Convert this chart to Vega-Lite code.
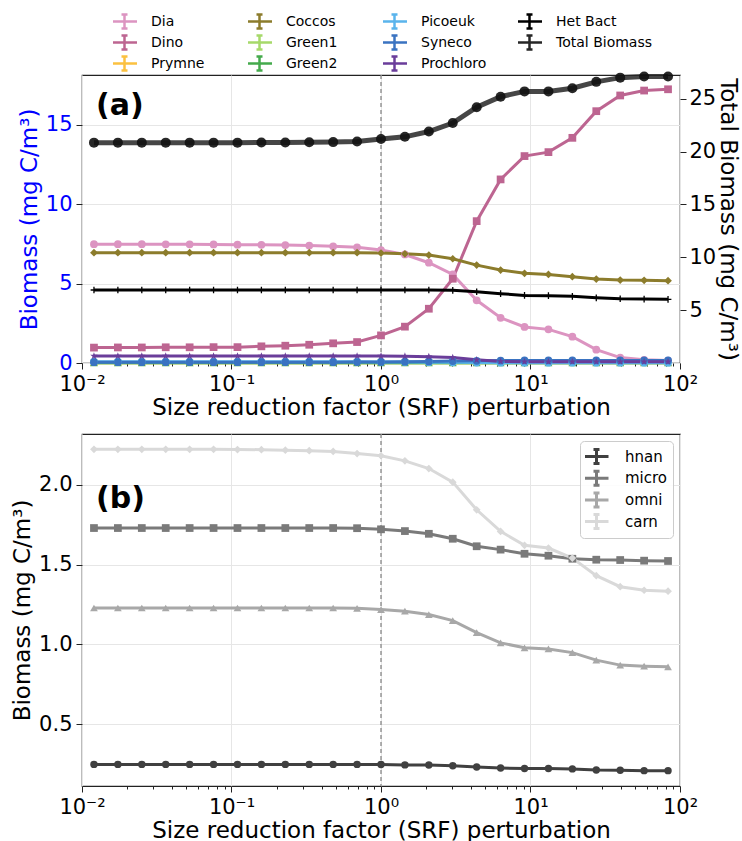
{
"$schema":"https://vega.github.io/schema/vega-lite/v6.json",
"padding":{"left":11,"top":10,"right":1,"bottom":2},
"config":{"font":"DejaVu Sans","view":{"stroke":"#222","strokeWidth":1.2},
 "axis":{"labelFontSize":21,"titleFontSize":23,"titleFontWeight":"normal","labelColor":"#000","titleColor":"#000","tickColor":"#222","domain":false,"gridColor":"#e6e6e6","tickSize":6,"labelPadding":4,"titlePadding":4}},
"datasets":{
"a":[
{"g":"Dia","x":0.012023,"y":7.49},{"g":"Dia","x":0.017378,"y":7.49},{"g":"Dia","x":0.025119,"y":7.49},{"g":"Dia","x":0.036308,"y":7.48},{"g":"Dia","x":0.052481,"y":7.48},{"g":"Dia","x":0.075858,"y":7.47},{"g":"Dia","x":0.10965,"y":7.46},{"g":"Dia","x":0.15849,"y":7.45},{"g":"Dia","x":0.22909,"y":7.43},{"g":"Dia","x":0.33113,"y":7.40},{"g":"Dia","x":0.47863,"y":7.35},{"g":"Dia","x":0.69183,"y":7.29},{"g":"Dia","x":1,"y":7.12},{"g":"Dia","x":1.4454,"y":6.84},{"g":"Dia","x":2.0893,"y":6.32},{"g":"Dia","x":3.02,"y":5.58},{"g":"Dia","x":4.3652,"y":3.95},{"g":"Dia","x":6.3096,"y":2.85},{"g":"Dia","x":9.1201,"y":2.27},{"g":"Dia","x":13.183,"y":2.12},{"g":"Dia","x":19.055,"y":1.66},{"g":"Dia","x":27.542,"y":0.84},{"g":"Dia","x":39.811,"y":0.34},{"g":"Dia","x":57.544,"y":0.2},{"g":"Dia","x":83.176,"y":0.15},
{"g":"Dino","x":0.012023,"y":0.97},{"g":"Dino","x":0.017378,"y":0.98},{"g":"Dino","x":0.025119,"y":0.98},{"g":"Dino","x":0.036308,"y":0.99},{"g":"Dino","x":0.052481,"y":0.99},{"g":"Dino","x":0.075858,"y":1.0},{"g":"Dino","x":0.10965,"y":1.0},{"g":"Dino","x":0.15849,"y":1.05},{"g":"Dino","x":0.22909,"y":1.09},{"g":"Dino","x":0.33113,"y":1.15},{"g":"Dino","x":0.47863,"y":1.24},{"g":"Dino","x":0.69183,"y":1.32},{"g":"Dino","x":1,"y":1.74},{"g":"Dino","x":1.4454,"y":2.29},{"g":"Dino","x":2.0893,"y":3.42},{"g":"Dino","x":3.02,"y":5.31},{"g":"Dino","x":4.3652,"y":8.94},{"g":"Dino","x":6.3096,"y":11.57},{"g":"Dino","x":9.1201,"y":13.04},{"g":"Dino","x":13.183,"y":13.29},{"g":"Dino","x":19.055,"y":14.19},{"g":"Dino","x":27.542,"y":15.87},{"g":"Dino","x":39.811,"y":16.86},{"g":"Dino","x":57.544,"y":17.17},{"g":"Dino","x":83.176,"y":17.25},
{"g":"Prymne","x":0.012023,"y":0.02},{"g":"Prymne","x":0.017378,"y":0.02},{"g":"Prymne","x":0.025119,"y":0.02},{"g":"Prymne","x":0.036308,"y":0.02},{"g":"Prymne","x":0.052481,"y":0.02},{"g":"Prymne","x":0.075858,"y":0.02},{"g":"Prymne","x":0.10965,"y":0.02},{"g":"Prymne","x":0.15849,"y":0.02},{"g":"Prymne","x":0.22909,"y":0.02},{"g":"Prymne","x":0.33113,"y":0.02},{"g":"Prymne","x":0.47863,"y":0.02},{"g":"Prymne","x":0.69183,"y":0.02},{"g":"Prymne","x":1,"y":0.02},{"g":"Prymne","x":1.4454,"y":0.02},{"g":"Prymne","x":2.0893,"y":0.02},{"g":"Prymne","x":3.02,"y":0.02},{"g":"Prymne","x":4.3652,"y":0.02},{"g":"Prymne","x":6.3096,"y":0.02},{"g":"Prymne","x":9.1201,"y":0.02},{"g":"Prymne","x":13.183,"y":0.02},{"g":"Prymne","x":19.055,"y":0.02},{"g":"Prymne","x":27.542,"y":0.02},{"g":"Prymne","x":39.811,"y":0.02},{"g":"Prymne","x":57.544,"y":0.02},{"g":"Prymne","x":83.176,"y":0.02},
{"g":"Coccos","x":0.012023,"y":6.95},{"g":"Coccos","x":0.017378,"y":6.95},{"g":"Coccos","x":0.025119,"y":6.95},{"g":"Coccos","x":0.036308,"y":6.95},{"g":"Coccos","x":0.052481,"y":6.95},{"g":"Coccos","x":0.075858,"y":6.95},{"g":"Coccos","x":0.10965,"y":6.95},{"g":"Coccos","x":0.15849,"y":6.95},{"g":"Coccos","x":0.22909,"y":6.95},{"g":"Coccos","x":0.33113,"y":6.95},{"g":"Coccos","x":0.47863,"y":6.95},{"g":"Coccos","x":0.69183,"y":6.95},{"g":"Coccos","x":1,"y":6.93},{"g":"Coccos","x":1.4454,"y":6.88},{"g":"Coccos","x":2.0893,"y":6.8},{"g":"Coccos","x":3.02,"y":6.57},{"g":"Coccos","x":4.3652,"y":6.17},{"g":"Coccos","x":6.3096,"y":5.86},{"g":"Coccos","x":9.1201,"y":5.65},{"g":"Coccos","x":13.183,"y":5.58},{"g":"Coccos","x":19.055,"y":5.44},{"g":"Coccos","x":27.542,"y":5.29},{"g":"Coccos","x":39.811,"y":5.23},{"g":"Coccos","x":57.544,"y":5.21},{"g":"Coccos","x":83.176,"y":5.19},
{"g":"Green1","x":0.012023,"y":0.01},{"g":"Green1","x":0.017378,"y":0.01},{"g":"Green1","x":0.025119,"y":0.01},{"g":"Green1","x":0.036308,"y":0.01},{"g":"Green1","x":0.052481,"y":0.01},{"g":"Green1","x":0.075858,"y":0.01},{"g":"Green1","x":0.10965,"y":0.01},{"g":"Green1","x":0.15849,"y":0.01},{"g":"Green1","x":0.22909,"y":0.01},{"g":"Green1","x":0.33113,"y":0.01},{"g":"Green1","x":0.47863,"y":0.01},{"g":"Green1","x":0.69183,"y":0.01},{"g":"Green1","x":1,"y":0.01},{"g":"Green1","x":1.4454,"y":0.01},{"g":"Green1","x":2.0893,"y":0.01},{"g":"Green1","x":3.02,"y":0.01},{"g":"Green1","x":4.3652,"y":0.01},{"g":"Green1","x":6.3096,"y":0.01},{"g":"Green1","x":9.1201,"y":0.01},{"g":"Green1","x":13.183,"y":0.01},{"g":"Green1","x":19.055,"y":0.01},{"g":"Green1","x":27.542,"y":0.01},{"g":"Green1","x":39.811,"y":0.01},{"g":"Green1","x":57.544,"y":0.01},{"g":"Green1","x":83.176,"y":0.01},
{"g":"Green2","x":0.012023,"y":0.01},{"g":"Green2","x":0.017378,"y":0.01},{"g":"Green2","x":0.025119,"y":0.01},{"g":"Green2","x":0.036308,"y":0.01},{"g":"Green2","x":0.052481,"y":0.01},{"g":"Green2","x":0.075858,"y":0.01},{"g":"Green2","x":0.10965,"y":0.01},{"g":"Green2","x":0.15849,"y":0.01},{"g":"Green2","x":0.22909,"y":0.01},{"g":"Green2","x":0.33113,"y":0.01},{"g":"Green2","x":0.47863,"y":0.01},{"g":"Green2","x":0.69183,"y":0.01},{"g":"Green2","x":1,"y":0.01},{"g":"Green2","x":1.4454,"y":0.01},{"g":"Green2","x":2.0893,"y":0.01},{"g":"Green2","x":3.02,"y":0.01},{"g":"Green2","x":4.3652,"y":0.01},{"g":"Green2","x":6.3096,"y":0.01},{"g":"Green2","x":9.1201,"y":0.01},{"g":"Green2","x":13.183,"y":0.01},{"g":"Green2","x":19.055,"y":0.01},{"g":"Green2","x":27.542,"y":0.01},{"g":"Green2","x":39.811,"y":0.01},{"g":"Green2","x":57.544,"y":0.01},{"g":"Green2","x":83.176,"y":0.01},
{"g":"Picoeuk","x":0.012023,"y":0.08},{"g":"Picoeuk","x":0.017378,"y":0.08},{"g":"Picoeuk","x":0.025119,"y":0.08},{"g":"Picoeuk","x":0.036308,"y":0.08},{"g":"Picoeuk","x":0.052481,"y":0.08},{"g":"Picoeuk","x":0.075858,"y":0.08},{"g":"Picoeuk","x":0.10965,"y":0.08},{"g":"Picoeuk","x":0.15849,"y":0.08},{"g":"Picoeuk","x":0.22909,"y":0.08},{"g":"Picoeuk","x":0.33113,"y":0.08},{"g":"Picoeuk","x":0.47863,"y":0.08},{"g":"Picoeuk","x":0.69183,"y":0.08},{"g":"Picoeuk","x":1,"y":0.07},{"g":"Picoeuk","x":1.4454,"y":0.06},{"g":"Picoeuk","x":2.0893,"y":0.05},{"g":"Picoeuk","x":3.02,"y":0.04},{"g":"Picoeuk","x":4.3652,"y":0.03},{"g":"Picoeuk","x":6.3096,"y":0.02},{"g":"Picoeuk","x":9.1201,"y":0.02},{"g":"Picoeuk","x":13.183,"y":0.02},{"g":"Picoeuk","x":19.055,"y":0.02},{"g":"Picoeuk","x":27.542,"y":0.02},{"g":"Picoeuk","x":39.811,"y":0.02},{"g":"Picoeuk","x":57.544,"y":0.02},{"g":"Picoeuk","x":83.176,"y":0.02},
{"g":"Syneco","x":0.012023,"y":0.05},{"g":"Syneco","x":0.017378,"y":0.05},{"g":"Syneco","x":0.025119,"y":0.05},{"g":"Syneco","x":0.036308,"y":0.05},{"g":"Syneco","x":0.052481,"y":0.05},{"g":"Syneco","x":0.075858,"y":0.05},{"g":"Syneco","x":0.10965,"y":0.05},{"g":"Syneco","x":0.15849,"y":0.05},{"g":"Syneco","x":0.22909,"y":0.05},{"g":"Syneco","x":0.33113,"y":0.05},{"g":"Syneco","x":0.47863,"y":0.05},{"g":"Syneco","x":0.69183,"y":0.06},{"g":"Syneco","x":1,"y":0.07},{"g":"Syneco","x":1.4454,"y":0.08},{"g":"Syneco","x":2.0893,"y":0.1},{"g":"Syneco","x":3.02,"y":0.12},{"g":"Syneco","x":4.3652,"y":0.14},{"g":"Syneco","x":6.3096,"y":0.15},{"g":"Syneco","x":9.1201,"y":0.16},{"g":"Syneco","x":13.183,"y":0.16},{"g":"Syneco","x":19.055,"y":0.16},{"g":"Syneco","x":27.542,"y":0.16},{"g":"Syneco","x":39.811,"y":0.16},{"g":"Syneco","x":57.544,"y":0.16},{"g":"Syneco","x":83.176,"y":0.16},
{"g":"Prochloro","x":0.012023,"y":0.44},{"g":"Prochloro","x":0.017378,"y":0.44},{"g":"Prochloro","x":0.025119,"y":0.44},{"g":"Prochloro","x":0.036308,"y":0.44},{"g":"Prochloro","x":0.052481,"y":0.44},{"g":"Prochloro","x":0.075858,"y":0.44},{"g":"Prochloro","x":0.10965,"y":0.44},{"g":"Prochloro","x":0.15849,"y":0.44},{"g":"Prochloro","x":0.22909,"y":0.44},{"g":"Prochloro","x":0.33113,"y":0.44},{"g":"Prochloro","x":0.47863,"y":0.44},{"g":"Prochloro","x":0.69183,"y":0.44},{"g":"Prochloro","x":1,"y":0.44},{"g":"Prochloro","x":1.4454,"y":0.43},{"g":"Prochloro","x":2.0893,"y":0.40},{"g":"Prochloro","x":3.02,"y":0.34},{"g":"Prochloro","x":4.3652,"y":0.2},{"g":"Prochloro","x":6.3096,"y":0.1},{"g":"Prochloro","x":9.1201,"y":0.08},{"g":"Prochloro","x":13.183,"y":0.08},{"g":"Prochloro","x":19.055,"y":0.08},{"g":"Prochloro","x":27.542,"y":0.08},{"g":"Prochloro","x":39.811,"y":0.08},{"g":"Prochloro","x":57.544,"y":0.08},{"g":"Prochloro","x":83.176,"y":0.08},
{"g":"Het Bact","x":0.012023,"y":4.6},{"g":"Het Bact","x":0.017378,"y":4.6},{"g":"Het Bact","x":0.025119,"y":4.6},{"g":"Het Bact","x":0.036308,"y":4.6},{"g":"Het Bact","x":0.052481,"y":4.6},{"g":"Het Bact","x":0.075858,"y":4.6},{"g":"Het Bact","x":0.10965,"y":4.6},{"g":"Het Bact","x":0.15849,"y":4.6},{"g":"Het Bact","x":0.22909,"y":4.6},{"g":"Het Bact","x":0.33113,"y":4.6},{"g":"Het Bact","x":0.47863,"y":4.6},{"g":"Het Bact","x":0.69183,"y":4.6},{"g":"Het Bact","x":1,"y":4.6},{"g":"Het Bact","x":1.4454,"y":4.6},{"g":"Het Bact","x":2.0893,"y":4.6},{"g":"Het Bact","x":3.02,"y":4.58},{"g":"Het Bact","x":4.3652,"y":4.49},{"g":"Het Bact","x":6.3096,"y":4.37},{"g":"Het Bact","x":9.1201,"y":4.26},{"g":"Het Bact","x":13.183,"y":4.24},{"g":"Het Bact","x":19.055,"y":4.2},{"g":"Het Bact","x":27.542,"y":4.11},{"g":"Het Bact","x":39.811,"y":4.05},{"g":"Het Bact","x":57.544,"y":4.03},{"g":"Het Bact","x":83.176,"y":4.01},
{"g":"Total Biomass","x":0.012023,"y":20.85},{"g":"Total Biomass","x":0.017378,"y":20.85},{"g":"Total Biomass","x":0.025119,"y":20.85},{"g":"Total Biomass","x":0.036308,"y":20.85},{"g":"Total Biomass","x":0.052481,"y":20.85},{"g":"Total Biomass","x":0.075858,"y":20.85},{"g":"Total Biomass","x":0.10965,"y":20.85},{"g":"Total Biomass","x":0.15849,"y":20.86},{"g":"Total Biomass","x":0.22909,"y":20.87},{"g":"Total Biomass","x":0.33113,"y":20.88},{"g":"Total Biomass","x":0.47863,"y":20.9},{"g":"Total Biomass","x":0.69183,"y":20.95},{"g":"Total Biomass","x":1,"y":21.2},{"g":"Total Biomass","x":1.4454,"y":21.4},{"g":"Total Biomass","x":2.0893,"y":21.9},{"g":"Total Biomass","x":3.02,"y":22.7},{"g":"Total Biomass","x":4.3652,"y":24.2},{"g":"Total Biomass","x":6.3096,"y":25.2},{"g":"Total Biomass","x":9.1201,"y":25.7},{"g":"Total Biomass","x":13.183,"y":25.7},{"g":"Total Biomass","x":19.055,"y":26.0},{"g":"Total Biomass","x":27.542,"y":26.6},{"g":"Total Biomass","x":39.811,"y":27.0},{"g":"Total Biomass","x":57.544,"y":27.1},{"g":"Total Biomass","x":83.176,"y":27.1}
],
"b":[
{"g":"hnan","x":0.012023,"y":0.25},{"g":"hnan","x":0.017378,"y":0.25},{"g":"hnan","x":0.025119,"y":0.25},{"g":"hnan","x":0.036308,"y":0.25},{"g":"hnan","x":0.052481,"y":0.25},{"g":"hnan","x":0.075858,"y":0.25},{"g":"hnan","x":0.10965,"y":0.25},{"g":"hnan","x":0.15849,"y":0.25},{"g":"hnan","x":0.22909,"y":0.25},{"g":"hnan","x":0.33113,"y":0.25},{"g":"hnan","x":0.47863,"y":0.25},{"g":"hnan","x":0.69183,"y":0.25},{"g":"hnan","x":1,"y":0.249},{"g":"hnan","x":1.4454,"y":0.247},{"g":"hnan","x":2.0893,"y":0.246},{"g":"hnan","x":3.02,"y":0.242},{"g":"hnan","x":4.3652,"y":0.234},{"g":"hnan","x":6.3096,"y":0.228},{"g":"hnan","x":9.1201,"y":0.224},{"g":"hnan","x":13.183,"y":0.224},{"g":"hnan","x":19.055,"y":0.222},{"g":"hnan","x":27.542,"y":0.215},{"g":"hnan","x":39.811,"y":0.213},{"g":"hnan","x":57.544,"y":0.211},{"g":"hnan","x":83.176,"y":0.211},
{"g":"micro","x":0.012023,"y":1.728},{"g":"micro","x":0.017378,"y":1.728},{"g":"micro","x":0.025119,"y":1.728},{"g":"micro","x":0.036308,"y":1.728},{"g":"micro","x":0.052481,"y":1.728},{"g":"micro","x":0.075858,"y":1.728},{"g":"micro","x":0.10965,"y":1.728},{"g":"micro","x":0.15849,"y":1.728},{"g":"micro","x":0.22909,"y":1.728},{"g":"micro","x":0.33113,"y":1.728},{"g":"micro","x":0.47863,"y":1.728},{"g":"micro","x":0.69183,"y":1.727},{"g":"micro","x":1,"y":1.72},{"g":"micro","x":1.4454,"y":1.709},{"g":"micro","x":2.0893,"y":1.692},{"g":"micro","x":3.02,"y":1.661},{"g":"micro","x":4.3652,"y":1.614},{"g":"micro","x":6.3096,"y":1.593},{"g":"micro","x":9.1201,"y":1.567},{"g":"micro","x":13.183,"y":1.555},{"g":"micro","x":19.055,"y":1.536},{"g":"micro","x":27.542,"y":1.53},{"g":"micro","x":39.811,"y":1.528},{"g":"micro","x":57.544,"y":1.524},{"g":"micro","x":83.176,"y":1.522},
{"g":"omni","x":0.012023,"y":1.228},{"g":"omni","x":0.017378,"y":1.228},{"g":"omni","x":0.025119,"y":1.228},{"g":"omni","x":0.036308,"y":1.228},{"g":"omni","x":0.052481,"y":1.228},{"g":"omni","x":0.075858,"y":1.228},{"g":"omni","x":0.10965,"y":1.228},{"g":"omni","x":0.15849,"y":1.228},{"g":"omni","x":0.22909,"y":1.228},{"g":"omni","x":0.33113,"y":1.228},{"g":"omni","x":0.47863,"y":1.228},{"g":"omni","x":0.69183,"y":1.226},{"g":"omni","x":1,"y":1.218},{"g":"omni","x":1.4454,"y":1.208},{"g":"omni","x":2.0893,"y":1.187},{"g":"omni","x":3.02,"y":1.149},{"g":"omni","x":4.3652,"y":1.074},{"g":"omni","x":6.3096,"y":1.01},{"g":"omni","x":9.1201,"y":0.979},{"g":"omni","x":13.183,"y":0.972},{"g":"omni","x":19.055,"y":0.949},{"g":"omni","x":27.542,"y":0.902},{"g":"omni","x":39.811,"y":0.871},{"g":"omni","x":57.544,"y":0.864},{"g":"omni","x":83.176,"y":0.86},
{"g":"carn","x":0.012023,"y":2.22},{"g":"carn","x":0.017378,"y":2.22},{"g":"carn","x":0.025119,"y":2.22},{"g":"carn","x":0.036308,"y":2.22},{"g":"carn","x":0.052481,"y":2.22},{"g":"carn","x":0.075858,"y":2.22},{"g":"carn","x":0.10965,"y":2.219},{"g":"carn","x":0.15849,"y":2.218},{"g":"carn","x":0.22909,"y":2.215},{"g":"carn","x":0.33113,"y":2.212},{"g":"carn","x":0.47863,"y":2.207},{"g":"carn","x":0.69183,"y":2.194},{"g":"carn","x":1,"y":2.18},{"g":"carn","x":1.4454,"y":2.148},{"g":"carn","x":2.0893,"y":2.10},{"g":"carn","x":3.02,"y":2.015},{"g":"carn","x":4.3652,"y":1.842},{"g":"carn","x":6.3096,"y":1.707},{"g":"carn","x":9.1201,"y":1.62},{"g":"carn","x":13.183,"y":1.603},{"g":"carn","x":19.055,"y":1.54},{"g":"carn","x":27.542,"y":1.43},{"g":"carn","x":39.811,"y":1.361},{"g":"carn","x":57.544,"y":1.339},{"g":"carn","x":83.176,"y":1.333}
],
"refline":[{"x":1}],
"labA":[{"x":0.0124,"y":16.2,"t":"(a)"}],
"labB":[{"x":0.0124,"y":1.909,"t":"(b)"}]
},
"spacing":12,
"resolve":{"scale":{"color":"independent","shape":"independent"},"legend":{"color":"independent"}},
"vconcat":[
{
 "width":598,"height":288,
 "layer":[
  {"encoding":{"x":{"field":"x","type":"quantitative","scale":{"type":"log","domain":[0.01,100],"nice":false},
    "axis":{"orient":"bottom","values":[0.01,0.1,1,10,100],"labelExpr":"datum.value < 0.05 ? '10⁻²' : datum.value < 0.5 ? '10⁻¹' : datum.value < 5 ? '10⁰' : datum.value < 50 ? '10¹' : '10²'","title":"Size reduction factor (SRF) perturbation","grid":true,"labelOverlap":false,"labelFlush":false,"titlePadding":2}}},
   "layer":[
    {"data":{"name":"refline"},"mark":{"type":"rule","color":"#7f7f7f","strokeDash":[4,3],"strokeWidth":1.2},"encoding":{}},
    {"data":{"name":"a"},"transform":[{"filter":"datum.g != 'Total Biomass'"}],
     "mark":{"type":"line","strokeWidth":3},
     "encoding":{
      "y":{"field":"y","type":"quantitative","scale":{"domain":[0,18.15],"nice":false},"axis":{"values":[0,5,10,15],"title":"Biomass (mg C/m³)","titleColor":"#0000ff","labelColor":"#0000ff","grid":true}},
      "color":{"field":"g","type":"nominal","scale":{"domain":["Dia","Dino","Prymne","Coccos","Green1","Green2","Picoeuk","Syneco","Prochloro","Het Bact","Total Biomass"],"range":["#dc94c1","#bd6591","#fbc140","#8c7c2c","#a6d96a","#44aa4c","#5ab4ec","#3a73c1","#6a3d9a","#000000","#262626"]},
        "legend":{"title":null,"orient":"none","legendX":31,"legendY":-64,"padding":0,"columns":4,"columnPadding":-18,"rowPadding":0,"clipHeight":21,"labelFontSize":14,"labelOffset":15,"symbolType":"M-1.25,0H1.25M0,-0.7V0.7M-0.3,-0.7H0.3M-0.3,0.7H0.3","symbolSize":400,"symbolStrokeWidth":2.5,"symbolFillColor":"transparent","gridAlign":"all"}},
      "strokeWidth":{"condition":{"test":"datum.g === 'Het Bact'","value":2.5},"value":3.2}}},
    {"data":{"name":"a"},"transform":[{"filter":"datum.g != 'Total Biomass' && datum.g != 'Het Bact'"}],
     "mark":{"type":"point","filled":true,"opacity":1,"size":60},
     "encoding":{
      "y":{"field":"y","type":"quantitative"},
      "color":{"field":"g","type":"nominal"},
      "shape":{"field":"g","type":"nominal","legend":null,"scale":{"domain":["Dia","Dino","Prymne","Coccos","Green1","Green2","Picoeuk","Syneco","Prochloro"],"range":["circle","square","triangle-up","diamond","triangle-down","triangle-up","circle","circle","M0,-1L0.24,-0.33L0.95,-0.31L0.38,0.12L0.59,0.81L0,0.4L-0.59,0.81L-0.38,0.12L-0.95,-0.31L-0.24,-0.33Z"]}}}},
    {"data":{"name":"a"},"transform":[{"filter":"datum.g == 'Het Bact'"}],
     "mark":{"type":"point","filled":false,"shape":"M0,-1V1M-1,0H1","size":45,"strokeWidth":1.3,"opacity":1,"color":"#000"},
     "encoding":{"y":{"field":"y","type":"quantitative"}}},
    {"data":{"name":"labA"},"mark":{"type":"text","align":"left","baseline":"middle","fontSize":30,"fontWeight":"bold","color":"#000"},
     "encoding":{"y":{"field":"y","type":"quantitative"},"text":{"field":"t"}}}
  ]},
  {"encoding":{"x":{"field":"x","type":"quantitative","scale":{"type":"log","domain":[0.01,100],"nice":false},"axis":null}},
   "layer":[
    {"data":{"name":"a"},"transform":[{"filter":"datum.g == 'Total Biomass'"}],
     "mark":{"type":"line","strokeWidth":5,"opacity":0.85},
     "encoding":{"y":{"field":"y","type":"quantitative","scale":{"domain":[0,27.25],"nice":false},"axis":{"orient":"right","values":[5,10,15,20,25],"title":"Total Biomass (mg C/m³)","grid":false,"titlePadding":0,"labelPadding":3}},
       "color":{"field":"g","type":"nominal"}}},
    {"data":{"name":"a"},"transform":[{"filter":"datum.g == 'Total Biomass'"}],
     "mark":{"type":"point","filled":true,"size":100,"opacity":0.9,"color":"#111"},
     "encoding":{"y":{"field":"y","type":"quantitative"}}}
  ]},
  {"data":{"name":"refline"},"mark":{"type":"rule","opacity":0},
   "encoding":{"x":{"field":"x","type":"quantitative","scale":{"type":"log","domain":[0.01,100],"nice":false},
    "axis":{"orient":"bottom","values":[0.02,0.03,0.04,0.05,0.06,0.07,0.08,0.09,0.2,0.3,0.4,0.5,0.6,0.7,0.8,0.9,2,3,4,5,6,7,8,9,20,30,40,50,60,70,80,90],"labels":false,"tickSize":3,"grid":false,"title":null}}}}
 ],
 "resolve":{"scale":{"y":"independent"},"axis":{"x":"independent"}}
},
{
 "width":598,"height":352,
 "layer":[
  {"encoding":{"x":{"field":"x","type":"quantitative","scale":{"type":"log","domain":[0.01,100],"nice":false},
    "axis":{"orient":"bottom","values":[0.01,0.1,1,10,100],"labelExpr":"datum.value < 0.05 ? '10⁻²' : datum.value < 0.5 ? '10⁻¹' : datum.value < 5 ? '10⁰' : datum.value < 50 ? '10¹' : '10²'","title":"Size reduction factor (SRF) perturbation","grid":true,"labelOverlap":false,"labelFlush":false,"titlePadding":2}},
    "y":{"field":"y","type":"quantitative","scale":{"domain":[0.115,2.316],"nice":false,"zero":false},"axis":{"values":[0.5,1,1.5,2],"format":".1f","title":"Biomass (mg C/m³)","grid":true}}},
   "layer":[
    {"data":{"name":"refline"},"mark":{"type":"rule","color":"#7f7f7f","strokeDash":[4,3],"strokeWidth":1.2},"encoding":{"y":null}},
    {"data":{"name":"b"},"mark":{"type":"line","strokeWidth":3},
     "encoding":{
      "color":{"field":"g","type":"nominal","scale":{"domain":["hnan","micro","omni","carn"],"range":["#404040","#7a7a7a","#a8a8a8","#d9d9d9"]},
       "legend":{"title":null,"orient":"top-right","offset":7,"padding":5,"strokeColor":"#cccccc","cornerRadius":4,"fillColor":"rgba(255,255,255,0.85)","labelFontSize":15,"labelOffset":17,"rowPadding":0.7,"clipHeight":21,"symbolType":"M-1.2,0H1.2M0,-0.7V0.7M-0.3,-0.7H0.3M-0.3,0.7H0.3","symbolSize":400,"symbolStrokeWidth":3,"symbolFillColor":"transparent"}}}},
    {"data":{"name":"b"},"transform":[{"filter":"datum.g == 'hnan'"}],"mark":{"type":"point","filled":true,"opacity":1,"size":55,"shape":"circle"},"encoding":{"color":{"field":"g","type":"nominal"}}},
    {"data":{"name":"b"},"transform":[{"filter":"datum.g == 'micro'"}],"mark":{"type":"point","filled":true,"opacity":1,"size":60,"shape":"square"},"encoding":{"color":{"field":"g","type":"nominal"}}},
    {"data":{"name":"b"},"transform":[{"filter":"datum.g == 'omni'"}],"mark":{"type":"point","filled":true,"opacity":1,"size":60,"shape":"triangle-up"},"encoding":{"color":{"field":"g","type":"nominal"}}},
    {"data":{"name":"b"},"transform":[{"filter":"datum.g == 'carn'"}],"mark":{"type":"point","filled":true,"opacity":1,"size":60,"shape":"diamond"},"encoding":{"color":{"field":"g","type":"nominal"}}},
    {"data":{"name":"labB"},"mark":{"type":"text","align":"left","baseline":"middle","fontSize":30,"fontWeight":"bold","color":"#000"},
     "encoding":{"text":{"field":"t"}}}
  ]},
  {"data":{"name":"refline"},"mark":{"type":"rule","opacity":0},
   "encoding":{"x":{"field":"x","type":"quantitative","scale":{"type":"log","domain":[0.01,100],"nice":false},
    "axis":{"orient":"bottom","values":[0.02,0.03,0.04,0.05,0.06,0.07,0.08,0.09,0.2,0.3,0.4,0.5,0.6,0.7,0.8,0.9,2,3,4,5,6,7,8,9,20,30,40,50,60,70,80,90],"labels":false,"tickSize":3,"grid":false,"title":null}}}}
 ],
 "resolve":{"axis":{"x":"independent"}}
}
]
}
